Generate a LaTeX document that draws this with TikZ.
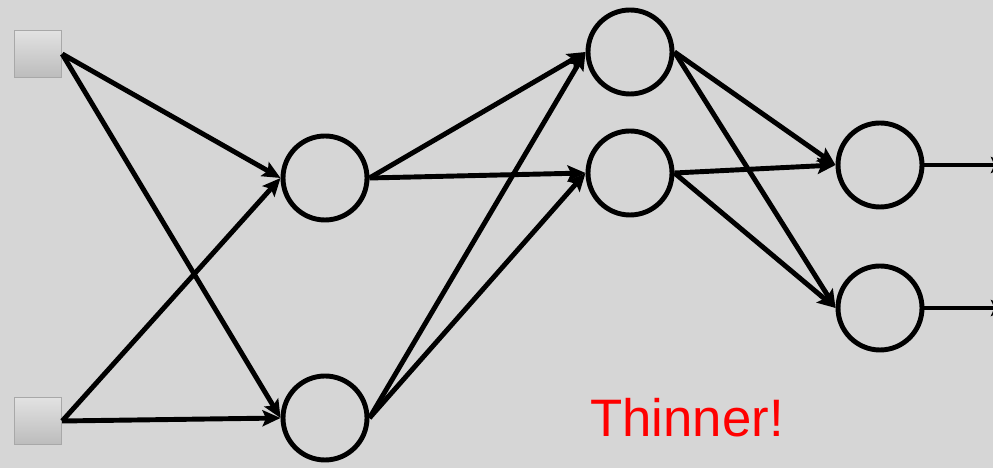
\documentclass[tikz,border=0pt]{standalone}
\usepackage{fontspec}
\setmainfont{Liberation Sans}
\usepackage{tikz}
\usepackage{xcolor}
\usetikzlibrary{arrows.meta, positioning, calc}
\definecolor{cBack}{RGB}{214,214,214}
\definecolor{cBoxTop}{RGB}{226,226,226}
\definecolor{cBoxBot}{RGB}{188,188,188}
\definecolor{cBoxLine}{RGB}{168,168,168}
\tikzset{
	inbox/.style  ={rectangle, minimum size=0.94cm, inner sep=0pt, draw=cBoxLine, thick, top color=cBoxTop, bottom color=cBoxBot},
	neuron/.style ={circle, draw=black, line width=2.8pt, minimum size=1.68cm, inner sep=0pt},
	wire/.style   ={-{Stealth[length=3.6mm, width=3.2mm, inset=0.7mm]}, line width=2.8pt},
}

\begin{document}
\begin{tikzpicture}
	\fill[cBack] (0,0) rectangle (19.86,9.36);
	\useasboundingbox (0,0) rectangle (19.86,9.36);
	% inputs
	\node[inbox] (x1) at (0.76,8.28) {};
	\node[inbox] (x2) at (0.76,0.94) {};
	% hidden layers
	\node[neuron] (h1) at (6.5,5.8) {};
	\node[neuron] (h2) at (6.5,1.0) {};
	\node[neuron] (g1) at (12.6,8.32) {};
	\node[neuron] (g2) at (12.6,5.9) {};
	% outputs
	\node[neuron] (o1) at (17.6,6.06) {};
	\node[neuron] (o2) at (17.6,3.2) {};
	\coordinate (y1) at (20.18,6.06);
	\coordinate (y2) at (20.18,3.2);
	\foreach \a in {x1,x2} \foreach \b in {h1,h2} \draw[wire] (\a.east) -- (\b.west);
	\foreach \a in {h1,h2} \foreach \b in {g1,g2} \draw[wire] (\a.east) -- (\b.west);
	\foreach \a in {g1,g2} \foreach \b in {o1,o2} \draw[wire] (\a.east) -- (\b.west);
	\draw[wire] (o1) -- (y1);
	\draw[wire] (o2) -- (y2);
	\node[red, font=\fontsize{30}{36}\selectfont] (note) at (13.74,1.0) {Thinner!};
\end{tikzpicture}
\end{document}
